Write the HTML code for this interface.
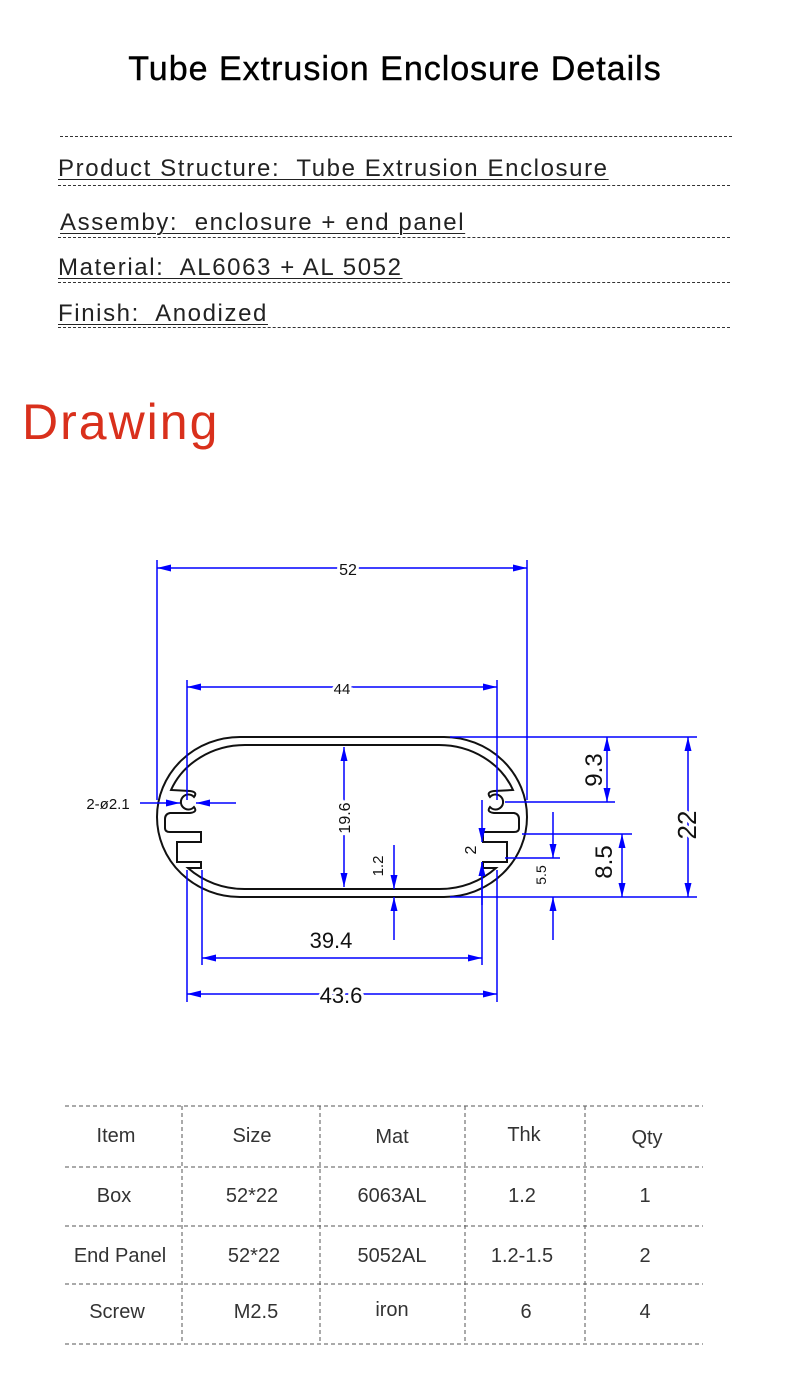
<!DOCTYPE html>
<html><head><meta charset="utf-8"><style>
body{margin:0;width:790px;height:1385px;background:#fff;position:relative;overflow:hidden;font-family:"Liberation Sans",sans-serif}
.t{position:absolute;white-space:nowrap}
.dash{position:absolute;left:58px;width:672px;border-top:1.5px dashed #333;height:0}
.sp{position:absolute;left:58px;font-size:24px;color:#222;letter-spacing:1.6px;text-decoration:underline;text-decoration-thickness:1px;text-underline-offset:3px}
</style></head><body>
<div class="t" style="left:0;width:790px;text-align:center;top:50px;font-size:34px;color:#000;letter-spacing:1px;-webkit-text-stroke:0.4px #000">Tube Extrusion Enclosure Details</div>
<div class="dash" style="top:136px;left:60px"></div>
<div class="sp" style="top:155px">Product Structure:&nbsp; Tube Extrusion Enclosure</div>
<div class="dash" style="top:185px"></div>
<div class="sp" style="top:209px;left:60px">Assemby:&nbsp; enclosure + end panel</div>
<div class="dash" style="top:237px"></div>
<div class="sp" style="top:254px">Material:&nbsp; AL6063 + AL 5052</div>
<div class="dash" style="top:282px"></div>
<div class="sp" style="top:300px">Finish:&nbsp; Anodized</div>
<div class="dash" style="top:327px"></div>
<div class="t" style="left:22px;top:393px;font-size:50px;color:#d9301c;letter-spacing:2px">Drawing</div>

<svg width="790" height="1385" style="position:absolute;left:0;top:0" xmlns="http://www.w3.org/2000/svg">
<defs>
<marker id="a" viewBox="0 0 14 8" refX="14" refY="4" markerWidth="14" markerHeight="8" orient="auto-start-reverse" markerUnits="userSpaceOnUse"><path d="M0,0.5 L14,4 L0,7.5z" fill="#0000ff"/></marker>
<path id="h" d="M342,745 H245 A80,72 0 0 0 171,790 L190,791 Q198,792 194,797 A7.5,7.5 0 1 0 194,807 Q198,812 190,813 L170,813 Q165,814 165,819 L165,828 Q165,832 170,832 L201,832 L201,842 L177,842 L177,862 L201,862 L201,868 L188,868 A80,72 0 0 0 245,889 H342"/>
</defs>
<g fill="none" stroke="#111" stroke-width="2">
<path d="M240,737 H444 A83,80 0 0 1 444,897 H240 A83,80 0 0 1 240,737Z"/>
<use href="#h"/>
<use href="#h" transform="translate(684,0) scale(-1,1)"/>
</g>
<g stroke="#0000ff" stroke-width="1.5" fill="none">
<path d="M157,560V800 M527,560V800 M187,680V800 M497,680V800"/>
<path d="M157,568H527" marker-start="url(#a)" marker-end="url(#a)"/>
<path d="M187,687H497" marker-start="url(#a)" marker-end="url(#a)"/>
<path d="M450,737H697 M450,897H697 M505,802H615 M522,834H632 M505,858H560"/>
<path d="M688,737V897" marker-start="url(#a)" marker-end="url(#a)"/>
<path d="M607,737V802" marker-start="url(#a)" marker-end="url(#a)"/>
<path d="M622,834V897" marker-start="url(#a)" marker-end="url(#a)"/>
<path d="M553,812V858" marker-end="url(#a)"/><path d="M553,940V897" marker-end="url(#a)"/>
<path d="M344,747V887" marker-start="url(#a)" marker-end="url(#a)"/>
<path d="M394,845V889" marker-end="url(#a)"/><path d="M394,940V897" marker-end="url(#a)"/>
<path d="M482,800V842" marker-end="url(#a)"/><path d="M482,905V862" marker-end="url(#a)"/>
<path d="M202,870V965 M482,862V965 M187,870V1002 M497,870V1002"/>
<path d="M202,958H482" marker-start="url(#a)" marker-end="url(#a)"/>
<path d="M187,994H497" marker-start="url(#a)" marker-end="url(#a)"/>
<path d="M140,803H180" marker-end="url(#a)"/><path d="M236,803H196" marker-end="url(#a)"/>
</g>
<g font-family="Liberation Sans, sans-serif" fill="#111" text-anchor="middle">
<text x="348" y="575" font-size="16" stroke="#fff" stroke-width="6" paint-order="stroke">52</text>
<text x="342" y="694" font-size="15" stroke="#fff" stroke-width="6" paint-order="stroke">44</text>
<text x="331" y="948" font-size="22">39.4</text>
<text x="341" y="1003" font-size="22" stroke="#fff" stroke-width="6" paint-order="stroke">43.6</text>
<text x="108" y="809" font-size="15">2-ø2.1</text>
<text transform="translate(350,818) rotate(-90)" font-size="16" stroke="#fff" stroke-width="6" paint-order="stroke">19.6</text>
<text transform="translate(383,866) rotate(-90)" font-size="15">1.2</text>
<text transform="translate(476,850) rotate(-90)" font-size="16">2</text>
<text transform="translate(546,875) rotate(-90)" font-size="14">5.5</text>
<text transform="translate(602,770) rotate(-90)" font-size="24">9.3</text>
<text transform="translate(612,862) rotate(-90)" font-size="24">8.5</text>
<text transform="translate(696,825) rotate(-90)" font-size="26" stroke="#fff" stroke-width="6" paint-order="stroke">22</text>
</g>
<g stroke="#555" stroke-width="1" stroke-dasharray="4,3">
<path d="M65,1106H703 M65,1167H703 M65,1226H703 M65,1284H703 M65,1344H703"/>
<path d="M182,1106V1344 M320,1106V1344 M465,1106V1344 M585,1106V1344"/>
</g>
<g font-family="Liberation Sans, sans-serif" font-size="20" fill="#333" text-anchor="middle">
<text x="116" y="1142">Item</text><text x="252" y="1142">Size</text><text x="392" y="1143">Mat</text><text x="524" y="1141">Thk</text><text x="647" y="1144">Qty</text>
<text x="114" y="1202">Box</text><text x="252" y="1202">52*22</text><text x="392" y="1202">6063AL</text><text x="522" y="1202">1.2</text><text x="645" y="1202">1</text>
<text x="120" y="1262">End Panel</text><text x="254" y="1262">52*22</text><text x="392" y="1262">5052AL</text><text x="522" y="1262">1.2-1.5</text><text x="645" y="1262">2</text>
<text x="117" y="1318">Screw</text><text x="256" y="1318">M2.5</text><text x="392" y="1316">iron</text><text x="526" y="1318">6</text><text x="645" y="1318">4</text>
</g>
</svg>
</body></html>
